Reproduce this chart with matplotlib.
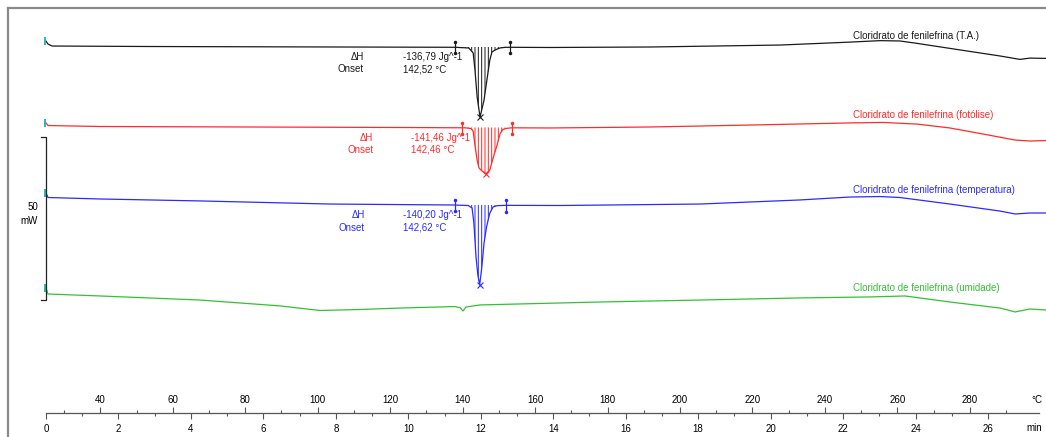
#DSC curves of cloridrato de fenilefrina after different stress conditions
import numpy as np
import matplotlib
matplotlib.use("Agg")
import matplotlib.pyplot as plt

# ---- data: time (min) and heat flow (mW, relative to each curve's baseline) ----
t_ta = [0, 0.055, 0.17, 2.87, 8.11, 11.29, 11.67, 11.79, 11.84, 11.90, 11.98, 12.09, 12.17,
        12.25, 12.31, 12.42, 12.53, 12.67, 12.81, 13.91, 16.67, 20.26, 22.19, 23.02, 23.57,
        23.99, 25.23, 26.33, 26.88, 27.16, 27.60]
hf_ta = [1.8, 0.9, 0.3, 0.15, 0.0, -0.09, -0.3, -1.8, -7.0, -15.3, -21.5, -16.3, -10.1,
         -4.0, -1.5, -0.8, -0.3, -0.1, -0.09, -0.15, 0.0, 0.6, 1.5, 1.95, 1.85,
         1.2, -0.9, -2.75, -3.8, -3.4, -3.5]

t_fot = [0, 0.055, 1.49, 9.77, 11.56, 11.73, 11.79, 11.84, 11.90, 11.95, 12.03, 12.14, 12.25,
         12.34, 12.45, 12.53, 12.61, 12.72, 12.86, 13.91, 16.67, 19.43, 22.19, 23.10, 24.04,
         24.95, 25.86, 26.75, 27.16, 27.60]
hf_fot = [1.4, 0.6, 0.3, 0.0, -0.1, -0.3, -1.1, -5.4, -10.0, -12.4, -13.3, -14.3, -13.0,
          -9.4, -5.4, -2.0, -0.6, -0.25, -0.1, -0.15, 0.15, 0.75, 1.4, 1.55, 1.05,
          -0.15, -2.0, -3.85, -4.15, -4.0]

t_temp = [0, 0.055, 1.49, 4.25, 7.84, 11.29, 11.65, 11.76, 11.81, 11.87, 11.92, 11.97, 12.03,
          12.09, 12.16, 12.25, 12.34, 12.45, 12.69, 14.19, 18.05, 20.81, 22.19, 23.02, 23.57,
          24.95, 26.33, 26.75, 27.16, 27.60]
hf_temp = [3.7, 2.3, 1.85, 1.25, 0.3, 0.0, -0.15, -0.9, -5.5, -16.0, -21.5, -24.5, -19.0,
           -11.7, -6.7, -2.5, -0.6, -0.2, -0.1, -0.15, 0.3, 1.55, 2.45, 2.6, 2.3,
           0.3, -1.85, -2.75, -2.45, -2.45]

t_umid = [0, 0.055, 1.49, 4.25, 6.46, 7.56, 8.67, 9.77, 11.29, 11.43, 11.51, 11.59, 11.98,
          15.29, 18.05, 20.81, 22.74, 23.71, 24.95, 26.33, 26.75, 27.16, 27.60]
hf_umid = [2.15, 0.3, -0.3, -1.55, -3.35, -4.75, -4.45, -4.0, -3.55, -3.9, -4.9, -3.7, -3.05,
           -2.15, -1.55, -0.9, -0.6, -0.3, -2.15, -4.0, -5.2, -4.3, -4.6]

names = ["Cloridrato de fenilefrina (T.A.)", "Cloridrato de fenilefrina (fotólise)",
         "Cloridrato de fenilefrina (temperatura)", "Cloridrato de fenilefrina (umidade)"]
colors = ["#1a1a1a", "#ff2a2a", "#2a2aff", "#33c133"]
offsets = [112.27, 87.58, 63.80, 36.20]          # vertical stacking (mW)
title_dy = [3.4, 3.8, 4.6, 2.1]                  # title height above curve (mW)

# peak evaluation (integration limits in min, enthalpy, onset)
limits = [(11.29, 12.81), (11.47, 12.85), (11.29, 12.69), None]
dH = ["-136,79", "-141,46", "-140,20", None]
onset = ["142,52", "142,46", "142,62", None]
label_x = [(8.78, 9.85), (9.03, 10.07), (8.80, 9.85), None]

scale_mw = 50
scale_bottom = 34.66
beta = 10.0   # heating rate, K/min
T_start = 25.0

curves = [(t_ta, hf_ta), (t_fot, hf_fot), (t_temp, hf_temp), (t_umid, hf_umid)]

# ---- figure geometry (pixels) ----
W, H = 1046, 437
PX_MIN = 36.23   # px per minute
PX_MW = 3.26     # px per mW
X0, Y0 = 46, 413

plt.rcParams["hatch.linewidth"] = 0.7
fig = plt.figure(figsize=(W / 100, H / 100), dpi=100)
ax = fig.add_axes([8 / W, 0, 1 - 8 / W, (H - 8) / H])
ax.set_xlim((8 - X0) / PX_MIN, (W - X0) / PX_MIN)
ax.set_ylim((Y0 - H) / PX_MW, (Y0 - 8) / PX_MW)
ax.set_xticks([])
ax.set_yticks([])
for s in ["right", "bottom"]:
    ax.spines[s].set_visible(False)
for s in ["left", "top"]:
    ax.spines[s].set_color("#8a8a8a")
    ax.spines[s].set_linewidth(1.6)

fs = 7
for i, (t, hf) in enumerate(curves):
    t = np.array(t)
    y = np.array(hf) + offsets[i]
    c = colors[i]
    ax.plot(t, y, color=c, lw=0.9)
    # start marker
    ax.plot(t[0] - 0.04, y[0], marker="|", ms=6, mew=1.3, color="#22b0b0")
    ax.text(22.27, offsets[i] + title_dy[i], names[i], color=c, fontsize=fs,
            family="Liberation Sans", va="center", ha="left")
    if limits[i] is None:
        continue
    lo, hi = limits[i]
    m = (t >= lo) & (t <= hi)
    ax.fill_between(t[m], y[m], offsets[i], facecolor="none", edgecolor=c,
                    hatch="|||||", linewidth=0)
    for tb in (lo, hi):
        yb = np.interp(tb, t, y)
        ax.plot([tb, tb], [yb + 1.6, yb - 1.9], color=c, lw=0.9,
                marker=".", ms=3)
    k = np.argmin(np.where(m, y, np.inf))
    ax.plot(t[k], y[k], marker="x", ms=5, mew=0.8, color=c)
    xr, xv = label_x[i]
    y1 = offsets[i] - 3.2
    y2 = offsets[i] - 6.9
    ax.text(xr, y1, "ΔH", color=c, fontsize=fs, ha="right", va="center", family="Liberation Sans")
    ax.text(xr, y2, "Onset", color=c, fontsize=fs, ha="right", va="center", family="Liberation Sans")
    ax.text(xv, y1, dH[i] + " Jg^-1", color=c, fontsize=fs, ha="left", va="center",
            family="Liberation Sans")
    ax.text(xv, y2, onset[i] + " °C", color=c, fontsize=fs, ha="left", va="center",
            family="Liberation Sans")

# 50 mW scale bar
sb = [scale_bottom, scale_bottom + scale_mw]
ax.plot([-0.13, 0, 0, -0.13], [sb[1], sb[1], sb[0], sb[0]], color="#222222", lw=0.9)
ax.text(-0.22, sb[0] + 28.6, "50", fontsize=fs, ha="right", va="center", family="Liberation Sans")
ax.text(-0.22, sb[0] + 24.3, "mW", fontsize=fs, ha="right", va="center", family="Liberation Sans")

# time / temperature axis
x_end = 1039
axt = fig.add_axes([X0 / W, (H - Y0) / H, (x_end - X0) / W, 1e-4])
axt.set_xlim(0, (x_end - X0) / PX_MIN)
axt.set_yticks([])
for s in ["left", "right", "top"]:
    axt.spines[s].set_visible(False)
axt.spines["bottom"].set_color("#555555")
axt.spines["bottom"].set_linewidth(0.9)
axt.set_xticks(np.arange(0, 27, 2))
axt.set_xticks(np.arange(1, 27, 2), minor=True)
axt.tick_params(axis="x", which="major", direction="out", length=4, width=0.8,
                color="#555555", pad=4, labelsize=fs)
axt.tick_params(axis="x", which="minor", direction="out", length=2.5, width=0.8,
                color="#555555")
for lab in axt.get_xticklabels():
    lab.set_family("Liberation Sans")

axT = axt.twiny()
axT.set_xlim(T_start, T_start + beta * (x_end - X0) / PX_MIN)
axT.set_yticks([])
for s in axT.spines.values():
    s.set_visible(False)
axT.set_xticks(np.arange(40, 300, 20))
axT.set_xticks(np.arange(30, 300, 20), minor=True)
axT.tick_params(axis="x", which="major", direction="out", length=4, width=0.8,
                color="#555555", pad=1.5, labelsize=fs)
axT.tick_params(axis="x", which="minor", direction="out", length=2.5, width=0.8,
                color="#555555")
for lab in axT.get_xticklabels():
    lab.set_family("Liberation Sans")

fig.text(1037 / W, 1 - 400 / H, "°C", fontsize=fs, ha="center", va="center", family="Liberation Sans")
fig.text(1034 / W, 1 - 428 / H, "min", fontsize=fs, ha="center", va="center", family="Liberation Sans")

fig.savefig("out.png", dpi=100)
